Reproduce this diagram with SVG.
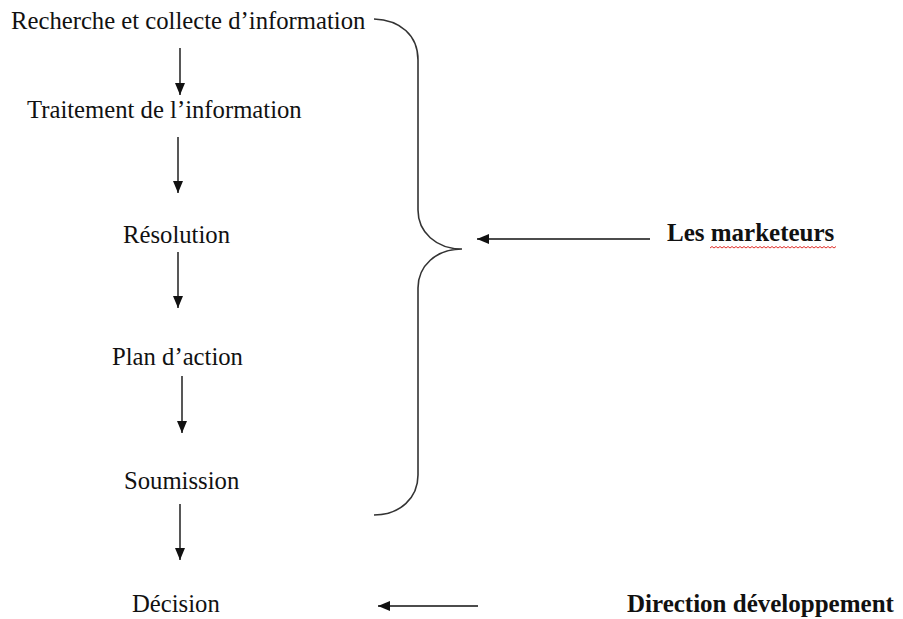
<svg xmlns="http://www.w3.org/2000/svg" width="903" height="619" viewBox="0 0 903 619">
  <style>
    .step { font-family: "Liberation Serif", "Times New Roman", serif; font-size: 24.7px; fill: #111; }
    .actor { font-family: "Liberation Serif", "Times New Roman", serif; font-size: 25px; font-weight: bold; fill: #111; }
    .flow { stroke: #111; stroke-width: 1.4; fill: none; marker-end: url(#head); }
    .brace { stroke: #333; stroke-width: 1.6; fill: none; }
    .spell { stroke: #e0302a; stroke-width: 1; fill: none; }
  </style>
  <defs>
    <marker id="head" viewBox="0 0 12 10" refX="12" refY="5" markerWidth="12" markerHeight="10" markerUnits="userSpaceOnUse" orient="auto">
      <path d="M0,0 L12,5 L0,10 z" fill="#111"/>
    </marker>
  </defs>
  <rect width="903" height="619" fill="#fff"/>

  <g id="step-recherche"><text class="step" x="11" y="29">Recherche et collecte d’information</text></g>
  <g id="step-traitement"><text class="step" x="27" y="118">Traitement de l’information</text></g>
  <g id="step-resolution"><text class="step" x="123" y="243">Résolution</text></g>
  <g id="step-plan"><text class="step" x="112" y="365">Plan d’action</text></g>
  <g id="step-soumission"><text class="step" x="124" y="489">Soumission</text></g>
  <g id="step-decision"><text class="step" x="132" y="612">Décision</text></g>

  <g id="actor-marketeurs">
    <text class="actor" x="667" y="241">Les marketeurs</text>
    <path class="spell" d="M710,248 l2,-1.5 l2,1.5 l2,-1.5 l2,1.5 l2,-1.5 l2,1.5 l2,-1.5 l2,1.5 l2,-1.5 l2,1.5 l2,-1.5 l2,1.5 l2,-1.5 l2,1.5 l2,-1.5 l2,1.5 l2,-1.5 l2,1.5 l2,-1.5 l2,1.5 l2,-1.5 l2,1.5 l2,-1.5 l2,1.5 l2,-1.5 l2,1.5 l2,-1.5 l2,1.5 l2,-1.5 l2,1.5 l2,-1.5 l2,1.5 l2,-1.5 l2,1.5 l2,-1.5 l2,1.5 l2,-1.5 l2,1.5 l2,-1.5 l2,1.5 l2,-1.5 l2,1.5 l2,-1.5 l2,1.5 l2,-1.5 l2,1.5 l2,-1.5 l2,1.5 l2,-1.5 l2,1.5 l2,-1.5 l2,1.5 l2,-1.5 l2,1.5 l2,-1.5 l2,1.5 l2,-1.5 l2,1.5 l2,-1.5 l2,1.5 l2,-1.5 l2,1.5 l2,-1.5"/>
  </g>
  <g id="actor-direction"><text class="actor" x="627" y="612">Direction développement</text></g>

  <!-- curly brace grouping the marketing steps -->
  <g id="brace">
    <path class="brace" d="M374,19 C400,20 418,35 418,60 L418,210 C418,232 436,249 462,249 C436,249 418,266 418,288 L418,475 C418,498 400,515 374,515"/>
  </g>

  <g id="connectors">
    <line class="flow" x1="180" y1="48" x2="180" y2="95"/>
    <line class="flow" x1="178" y1="137" x2="178" y2="193"/>
    <line class="flow" x1="178" y1="252" x2="178" y2="308"/>
    <line class="flow" x1="182" y1="376" x2="182" y2="433"/>
    <line class="flow" x1="180" y1="504" x2="180" y2="560"/>
    <line class="flow" x1="650" y1="239" x2="477" y2="239"/>
    <line class="flow" x1="478" y1="606" x2="378" y2="606"/>
  </g>
</svg>
